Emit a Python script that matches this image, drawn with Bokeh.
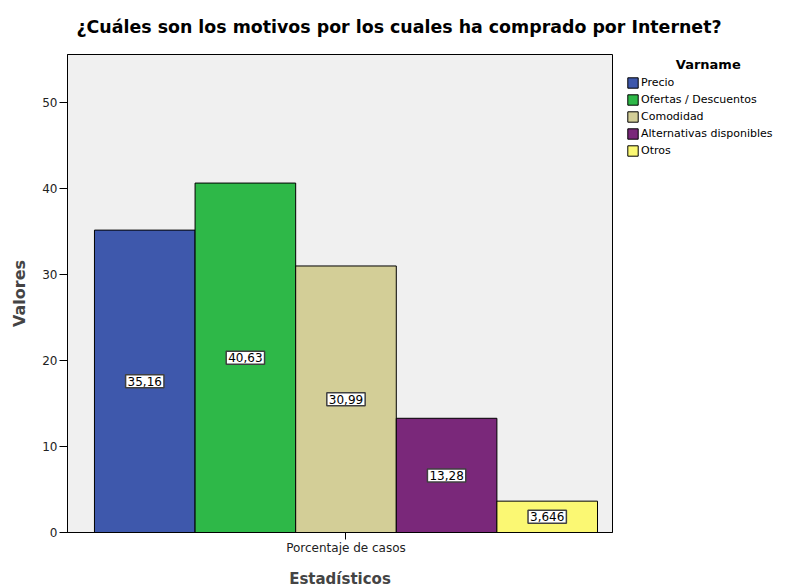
from bokeh.plotting import figure
from bokeh.models import (ColumnDataSource, Range1d, FixedTicker, Label,
                          Legend, LegendItem)
from bokeh.embed import file_html
from bokeh.resources import INLINE

categories = ["Precio", "Ofertas / Descuentos", "Comodidad", "Alternativas disponibles", "Otros"]
values = [35.16, 40.63, 30.99, 13.28, 3.646]
colors = ["#3E58AC", "#2EB848", "#D3CE97", "#7A287A", "#FBF873"]
x_tick_label = "Porcentaje de casos"
y_ticks = [0, 10, 20, 30, 40, 50]
title_text = "¿Cuáles son los motivos por los cuales ha comprado por Internet?"
legend_title = "Varname"

FONT = "DejaVu Sans"

src = ColumnDataSource(dict(
    x=list(range(len(categories))),
    top=values,
    color=colors,
    cat=categories,
))

p = figure(output_backend="svg", toolbar_location=None,
           x_range=Range1d(-0.768, 4.649), y_range=Range1d(0, 55.58),
           min_border_left=67, min_border_right=0, min_border_top=54, min_border_bottom=56)
p.frame_width = 545
p.frame_height = 478

p.background_fill_color = "#F0F0F0"
p.border_fill_color = "white"
p.outline_line_color = "black"
p.outline_line_width = 1
p.grid.visible = False

r = p.vbar(x="x", top="top", width=1.0, fill_color="color", line_color="black",
           line_width=1, source=src)

for i, v in enumerate(values):
    p.add_layout(Label(x=i, y=v / 2, text=f"{v:.4g}".replace(".", ","),
                       text_align="center", text_baseline="middle", text_font=FONT,
                       text_font_size="12px", text_color="black",
                       background_fill_color="white", border_line_color="#404040",
                       border_line_width=1.5, padding=2))

# title
p.title.text = title_text
p.title.align = "left"
p.title.vertical_align = "top"
p.title.offset = 9
p.title.standoff = 32
p.title.text_font = FONT
p.title.text_font_style = "bold"
p.title.text_font_size = "17.4px"
p.title.text_color = "black"

# axes
p.yaxis.ticker = FixedTicker(ticks=y_ticks)
p.yaxis.minor_tick_line_color = None
p.yaxis.major_tick_in = 0
p.yaxis.major_tick_out = 8
p.yaxis.major_label_standoff = 2
p.yaxis.axis_label = "Valores"
p.yaxis.axis_label_standoff = 10
p.yaxis.axis_label_text_font = FONT
p.yaxis.axis_label_text_font_style = "bold"
p.yaxis.axis_label_text_font_size = "16px"
p.yaxis.major_label_text_font = FONT
p.yaxis.major_label_text_font_size = "12px"
p.yaxis.major_label_text_color = "#222222"

p.xaxis.ticker = FixedTicker(ticks=[2])
p.xaxis.major_label_overrides = {2: x_tick_label}
p.xaxis.minor_tick_line_color = None
p.xaxis.major_tick_in = 0
p.xaxis.major_tick_out = 7
p.xaxis.major_label_standoff = 1
p.xaxis.axis_label = "Estadísticos"
p.xaxis.axis_label_standoff = 12
p.xaxis.axis_label_text_font = FONT
p.xaxis.axis_label_text_font_style = "bold"
p.xaxis.axis_label_text_font_size = "15px"
p.xaxis.major_label_text_font = FONT
p.xaxis.major_label_text_font_size = "12px"
p.xaxis.major_label_text_color = "#222222"
for ax in (p.xaxis, p.yaxis):
    ax.axis_line_color = "black"
    ax.major_tick_line_color = "black"

legend = Legend(items=[LegendItem(label=c, renderers=[r], index=i) for i, c in enumerate(categories)],
                location=(14, 375), orientation="vertical",
                title="\u00a0" * 11 + legend_title,
                title_text_font=FONT, title_text_font_style="bold",
                title_text_font_size="13px", title_text_color="black", title_standoff=4,
                border_line_color=None, background_fill_alpha=0,
                label_text_font=FONT, label_text_font_size="11px", label_text_color="black",
                glyph_width=13, glyph_height=13, label_height=13, label_standoff=2,
                spacing=4, padding=0, margin=0)
p.add_layout(legend, "right")

open("out.html", "w").write(file_html(p, INLINE))
